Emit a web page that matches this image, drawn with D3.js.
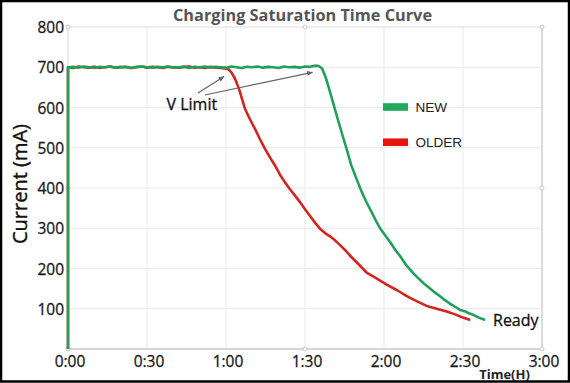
<!DOCTYPE html>
<html><head><meta charset="utf-8">
<script src="https://cdn.jsdelivr.net/npm/d3@7"></script>
<style>body{margin:0;background:#fff}svg{display:block}</style>
</head><body><svg id="c" width="570" height="383"></svg>
<script>
// ---- data (minutes, mA) ----
const title = "Charging Saturation Time Curve";
const xTicks = [0, 30, 60, 90, 120, 150, 180];
const xTickLabels = ["0:00", "0:30", "1:00", "1:30", "2:00", "2:30", "3:00"];
const yTicks = [100, 200, 300, 400, 500, 600, 700, 800];
const seriesNames = ["NEW", "OLDER"];

const newTime = [0, 0, 2, 4, 6, 8, 10, 12, 14, 16, 18, 20, 22, 24, 26, 28, 30, 32, 34, 36, 38, 40, 42, 44, 46, 48, 50, 52, 54, 56, 58, 60, 62, 64, 66, 68, 70, 72, 74, 76, 78, 80, 82, 84, 86, 88, 90, 92, 93.8, 95.2, 96.5, 98, 99.5, 102, 104, 105.8, 107.5, 109.6, 111.5, 113.4, 115.3, 117, 118.5, 120.5, 122.3, 124.2, 126.1, 128.6, 131, 133, 134.9, 137, 139, 141.3, 143, 145, 147, 148.9, 151, 152.5, 153.9, 156, 158.4];
const newValue = [0, 700, 701, 699, 702, 700, 698, 701, 700, 702, 699, 701, 700, 698, 701, 702, 700, 699, 701, 700, 702, 699, 700, 701, 698, 701, 700, 702, 699, 701, 700, 699, 702, 700, 698, 701, 700, 702, 699, 701, 700, 698, 702, 700, 701, 699, 702, 701, 704, 703, 697, 672, 639, 581, 536, 497, 458, 422, 391, 364, 340, 318, 300, 282, 266, 247, 231, 207, 189, 176, 164, 153, 142, 131, 122, 113, 105, 97, 93, 88, 85, 78, 72];

const olderTime = [0, 0, 2, 4, 6, 8, 10, 12, 14, 16, 18, 20, 22, 24, 26, 28, 30, 32, 34, 36, 38, 40, 42, 44, 46, 48, 50, 52, 54, 56, 58, 59.6, 60.9, 62, 63.4, 65, 67.2, 69, 71, 73, 74.8, 76.7, 78.6, 80.5, 82.4, 84.3, 86.2, 88.1, 90, 92, 93.8, 95.7, 97.6, 99.5, 101.4, 103.3, 105.5, 108, 110, 113.4, 117, 121, 125, 127.5, 129.9, 133, 136.2, 140, 143.8, 147, 150, 152.7];
const olderValue = [0, 700, 698, 702, 700, 699, 701, 698, 700, 702, 699, 700, 701, 698, 700, 702, 699, 701, 700, 698, 701, 700, 699, 701, 702, 699, 700, 698, 701, 699, 698, 697, 695, 688, 672, 645, 597, 572, 547, 520, 497, 476, 456, 433, 414, 397, 381, 365, 347, 330, 314, 299, 288, 280, 270, 258, 244, 226, 213, 190, 176, 160, 146, 136, 127, 117, 107, 100, 93, 86, 78, 72];

// ---- layout ----
const svg = d3.select("#c");
const W = 570, H = 383;
const x = d3.scaleLinear().domain([0, 180]).range([68, 542]);
const y = d3.scaleLinear().domain([0, 800]).range([349, 27]);
const green = "#22a05a", red = "#d0261e";
const font = "'Open Sans', 'Noto Sans', sans-serif";

svg.append("rect").attr("x", 0).attr("y", 0).attr("width", W).attr("height", H).attr("fill", "#fff");

// grid
const g = svg.append("g");
g.selectAll("line.gx").data(xTicks.slice(1, -1)).join("line")
  .attr("x1", d => x(d)).attr("x2", d => x(d)).attr("y1", y(800)).attr("y2", y(0))
  .attr("stroke", "#e9e9e9").attr("stroke-width", 1);
g.selectAll("line.gy").data(yTicks.slice(0, -1)).join("line")
  .attr("x1", x(0)).attr("x2", x(180)).attr("y1", d => y(d)).attr("y2", d => y(d))
  .attr("stroke", "#e9e9e9").attr("stroke-width", 1);
// frame
g.append("line").attr("x1", x(0)).attr("x2", x(180)).attr("y1", y(800)).attr("y2", y(800)).attr("stroke", "#dcdcdc").attr("stroke-width", 1.2);
g.append("line").attr("x1", x(180)).attr("x2", x(180)).attr("y1", y(800)).attr("y2", y(0)).attr("stroke", "#cfcfcf").attr("stroke-width", 1.5);
g.append("line").attr("x1", x(0)).attr("x2", x(0)).attr("y1", y(800)).attr("y2", y(0)).attr("stroke", "#dcdcdc").attr("stroke-width", 1.2);
g.append("line").attr("x1", x(0)).attr("x2", x(180)).attr("y1", y(0)).attr("y2", y(0)).attr("stroke", "#c8c8c8").attr("stroke-width", 1.5);

// handles
const hx = [0, 90, 180], hy = [0, 400, 800];
const handles = [];
hx.forEach(a => hy.forEach(b => { if (!(a === 90 && b === 400)) handles.push([a, b]); }));
svg.selectAll("circle.h").data(handles).join("circle")
  .attr("cx", d => x(d[0])).attr("cy", d => y(d[1])).attr("r", 2)
  .attr("fill", "#fff").attr("stroke", "#bbb").attr("stroke-width", 0.8);

// axes
const xAxis = d3.axisBottom(x).tickValues(xTicks).tickSize(0).tickPadding(0)
  .tickFormat((d, i) => xTickLabels[i]);
const xa = svg.append("g").attr("transform", `translate(1.5,${y(0) + 17.5})`).call(xAxis);
xa.select(".domain").remove();
xa.selectAll("text").attr("font-family", font).attr("font-size", 15.5).attr("fill", "#1a1a1a")
  .attr("stroke", "#1a1a1a").attr("stroke-width", 0.3).attr("dy", 0);

const yAxis = d3.axisLeft(y).tickValues(yTicks).tickSize(0).tickPadding(4);
const ya = svg.append("g").attr("transform", `translate(${x(0)},0)`).call(yAxis);
ya.select(".domain").remove();
ya.selectAll("text").attr("font-family", font).attr("font-size", 15.5).attr("fill", "#1a1a1a")
  .attr("stroke", "#1a1a1a").attr("stroke-width", 0.3).attr("dy", "0.36em");

// lines
const line = d3.line().x(d => x(d[0])).y(d => y(d[1]));
const olderPts = olderTime.map((t, i) => [t, olderValue[i]]);
const newPts = newTime.map((t, i) => [t, newValue[i]]);
svg.append("path").attr("d", line(olderPts)).attr("fill", "none").attr("stroke", red).attr("stroke-width", 2.6).attr("stroke-linejoin", "round");
svg.append("path").attr("d", line(newPts)).attr("fill", "none").attr("stroke", green).attr("stroke-width", 2.6).attr("stroke-linejoin", "round");

// title
svg.append("text").attr("x", 302.5).attr("y", 21).attr("text-anchor", "middle")
  .attr("font-family", font).attr("font-weight", "bold").attr("font-size", 16.3).attr("fill", "#555").text(title);

// y label
svg.append("text").attr("transform", `translate(27,184) rotate(-90)`).attr("text-anchor", "middle")
  .attr("font-family", font).attr("font-size", 20).attr("fill", "#111")
  .attr("stroke", "#111").attr("stroke-width", 0.4).text("Current (mA)");

// x label
svg.append("text").attr("x", 504.5).attr("y", 378.5).attr("text-anchor", "middle")
  .attr("font-family", font).attr("font-weight", "bold").attr("font-size", 13).attr("fill", "#222").text("Time(H)");

// Ready
svg.append("text").attr("x", 493).attr("y", 326).attr("font-family", font).attr("font-size", 16)
  .attr("fill", "#111").attr("stroke", "#111").attr("stroke-width", 0.3).text("Ready");

// V Limit annotation
svg.append("defs").append("marker").attr("id", "ah").attr("viewBox", "0 0 10 10").attr("refX", 9).attr("refY", 5)
  .attr("markerWidth", 7).attr("markerHeight", 6).attr("orient", "auto").attr("markerUnits", "userSpaceOnUse")
  .append("path").attr("d", "M0,1 L10,5 L0,9 Z").attr("fill", "#666");
svg.append("line").attr("x1", 198).attr("y1", 93).attr("x2", 224).attr("y2", 76.5).attr("stroke", "#666").attr("stroke-width", 1.2).attr("marker-end", "url(#ah)");
svg.append("line").attr("x1", 205).attr("y1", 95).attr("x2", 312.5).attr("y2", 72.3).attr("stroke", "#666").attr("stroke-width", 1.2).attr("marker-end", "url(#ah)");
svg.append("text").attr("x", 166.5).attr("y", 110).attr("font-family", font).attr("font-size", 16)
  .attr("fill", "#111").attr("stroke", "#111").attr("stroke-width", 0.3).text("V Limit");

// legend
const lg = svg.append("g");
const legColors = ["#1fa85a", "#e8140e"];
seriesNames.forEach((n, i) => {
  const cy = 107 + i * 35.2;
  lg.append("rect").attr("x", 383).attr("y", cy - 3.8).attr("width", 25).attr("height", 7.6).attr("fill", legColors[i]);
  lg.append("text").attr("x", 415.5).attr("y", cy + 4.8).attr("font-family", "'Liberation Sans', Arial, sans-serif")
    .attr("font-size", 13.5).attr("fill", "#222").text(n);
});

// outer border
svg.append("rect").attr("x", 1).attr("y", 1).attr("width", W - 2).attr("height", H - 2.5)
  .attr("fill", "none").attr("stroke", "#000").attr("stroke-width", 2.5);
</script></body></html>
